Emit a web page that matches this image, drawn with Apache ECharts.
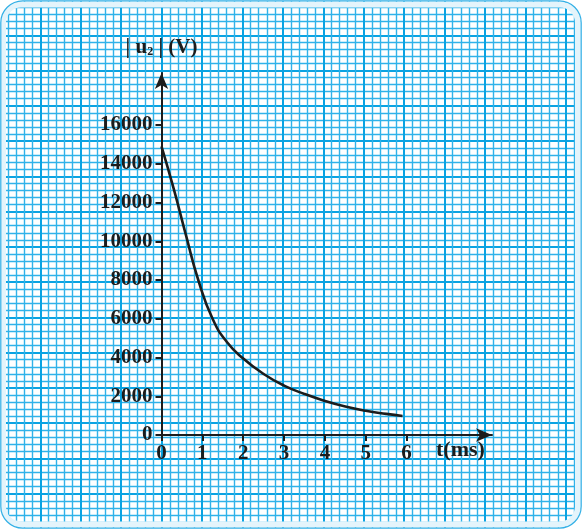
<!DOCTYPE html>
<html>
<head>
<meta charset="utf-8">
<script src="https://cdn.jsdelivr.net/npm/echarts@6/dist/echarts.min.js"></script>
<style>
html,body{margin:0;padding:0;background:#fff;}
#chart{width:582px;height:529px;}
</style>
</head>
<body>
<div id="chart"></div>
<script>
// ---- data ----
const timeMs = [0, 0.3, 0.6, 0.9, 1.25, 1.6, 2.0, 2.5, 3.0, 3.5, 4.0, 4.5, 5.0, 5.5, 5.9];
const voltage = [14900, 12700, 10300, 8000, 6000, 4800, 3950, 3150, 2550, 2120, 1760, 1470, 1250, 1090, 980];
const xTicks = [0, 1, 2, 3, 4, 5, 6];
const yTicks = [0, 2000, 4000, 6000, 8000, 10000, 12000, 14000, 16000];
const xName = 't(ms)';
const yName = '| u{sub|2} | (V)';

const points = timeMs.map((t, i) => [t, voltage[i]]);

const chart = echarts.init(document.getElementById('chart'), null, {renderer: 'canvas'});
const serif = '"Liberation Serif", "Times New Roman", serif';
const ink = '#1c1c1c';
const major = '#0aa3e2';
const minor = '#30b2e9';

const option = {
  backgroundColor: '#ffffff',
  animation: false,
  grid: [
    {left: -1.98, top: -30, width: 588.5, height: 581.25, containLabel: false},
    {left: 161.5, top: 73, width: 330.5, height: 362, containLabel: false}
  ],
  xAxis: [
    {
      gridIndex: 0, type: 'value', min: -4, max: 10.4, interval: 1,
      axisLine: {show: false}, axisTick: {show: false}, axisLabel: {show: false},
      splitLine: {show: true, lineStyle: {color: major, width: 2}},
      minorTick: {show: false, splitNumber: 5},
      minorSplitLine: {show: true, lineStyle: {color: minor, width: 1.4}}
    },
    {
      gridIndex: 1, type: 'value', min: 0, max: 8.09,
      axisLine: {show: true, onZero: false, lineStyle: {color: ink, width: 2},
        symbol: ['none', 'arrow'], symbolSize: [10, 16], symbolOffset: [0, 0]},
      axisTick: {show: true, inside: false, length: 6, lineStyle: {color: ink, width: 2}, customValues: xTicks},
      axisLabel: {show: true, margin: 8, customValues: xTicks, formatter: v => String(v),
        fontFamily: serif, fontWeight: 'bold', fontSize: 21, color: ink},
      splitLine: {show: false},
      name: xName, nameLocation: 'end', nameGap: -56,
      nameTextStyle: {fontFamily: serif, fontWeight: 'bold', fontSize: 22, color: ink,
        align: 'left', verticalAlign: 'top', padding: [4, 0, 0, 0]}
    }
  ],
  yAxis: [
    {
      gridIndex: 0, type: 'value', min: -6000, max: 24000, interval: 2000,
      axisLine: {show: false}, axisTick: {show: false}, axisLabel: {show: false},
      splitLine: {show: true, lineStyle: {color: major, width: 2}},
      minorTick: {show: false, splitNumber: 5},
      minorSplitLine: {show: true, lineStyle: {color: minor, width: 1.4}}
    },
    {
      gridIndex: 1, type: 'value', min: 0, max: 18684,
      axisLine: {show: true, onZero: false, lineStyle: {color: ink, width: 2},
        symbol: ['none', 'arrow'], symbolSize: [10, 16], symbolOffset: [0, 0]},
      axisTick: {show: true, inside: false, length: 6, lineStyle: {color: ink, width: 2}, customValues: yTicks},
      axisLabel: {show: true, margin: 9, customValues: yTicks, formatter: v => String(v),
        fontFamily: serif, fontWeight: 'bold', fontSize: 21, color: ink},
      splitLine: {show: false},
      name: yName, nameLocation: 'end', nameGap: 15,
      nameTextStyle: {fontFamily: serif, fontWeight: 'bold', fontSize: 21, color: ink,
        rich: {sub: {fontFamily: serif, fontWeight: 'bold', fontSize: 12, color: ink, verticalAlign: 'bottom', padding: [9, 0, 0, 0]}}}
    }
  ],
  series: [
    {
      type: 'line', xAxisIndex: 1, yAxisIndex: 1, data: points,
      smooth: 0.5, showSymbol: false, symbol: 'none',
      lineStyle: {color: ink, width: 2.6}, z: 5
    }
  ],
  graphic: [
    {type: 'rect', z: 100, silent: true,
      shape: {x: -19, y: -19, width: 620, height: 567, r: 42},
      style: {fill: 'none', stroke: '#ffffff', lineWidth: 40}},
    {type: 'rect', z: 101, silent: true,
      shape: {x: 3, y: 4.5, width: 575, height: 520, r: 18},
      style: {fill: 'none', stroke: '#e4f4fb', lineWidth: 6}},
    {type: 'rect', z: 102, silent: true,
      shape: {x: 0.8, y: 0.8, width: 580.4, height: 527.4, r: 22},
      style: {fill: 'none', stroke: '#33b0e6', lineWidth: 1.2}}
  ]
};
chart.setOption(option);
</script>
</body>
</html>
